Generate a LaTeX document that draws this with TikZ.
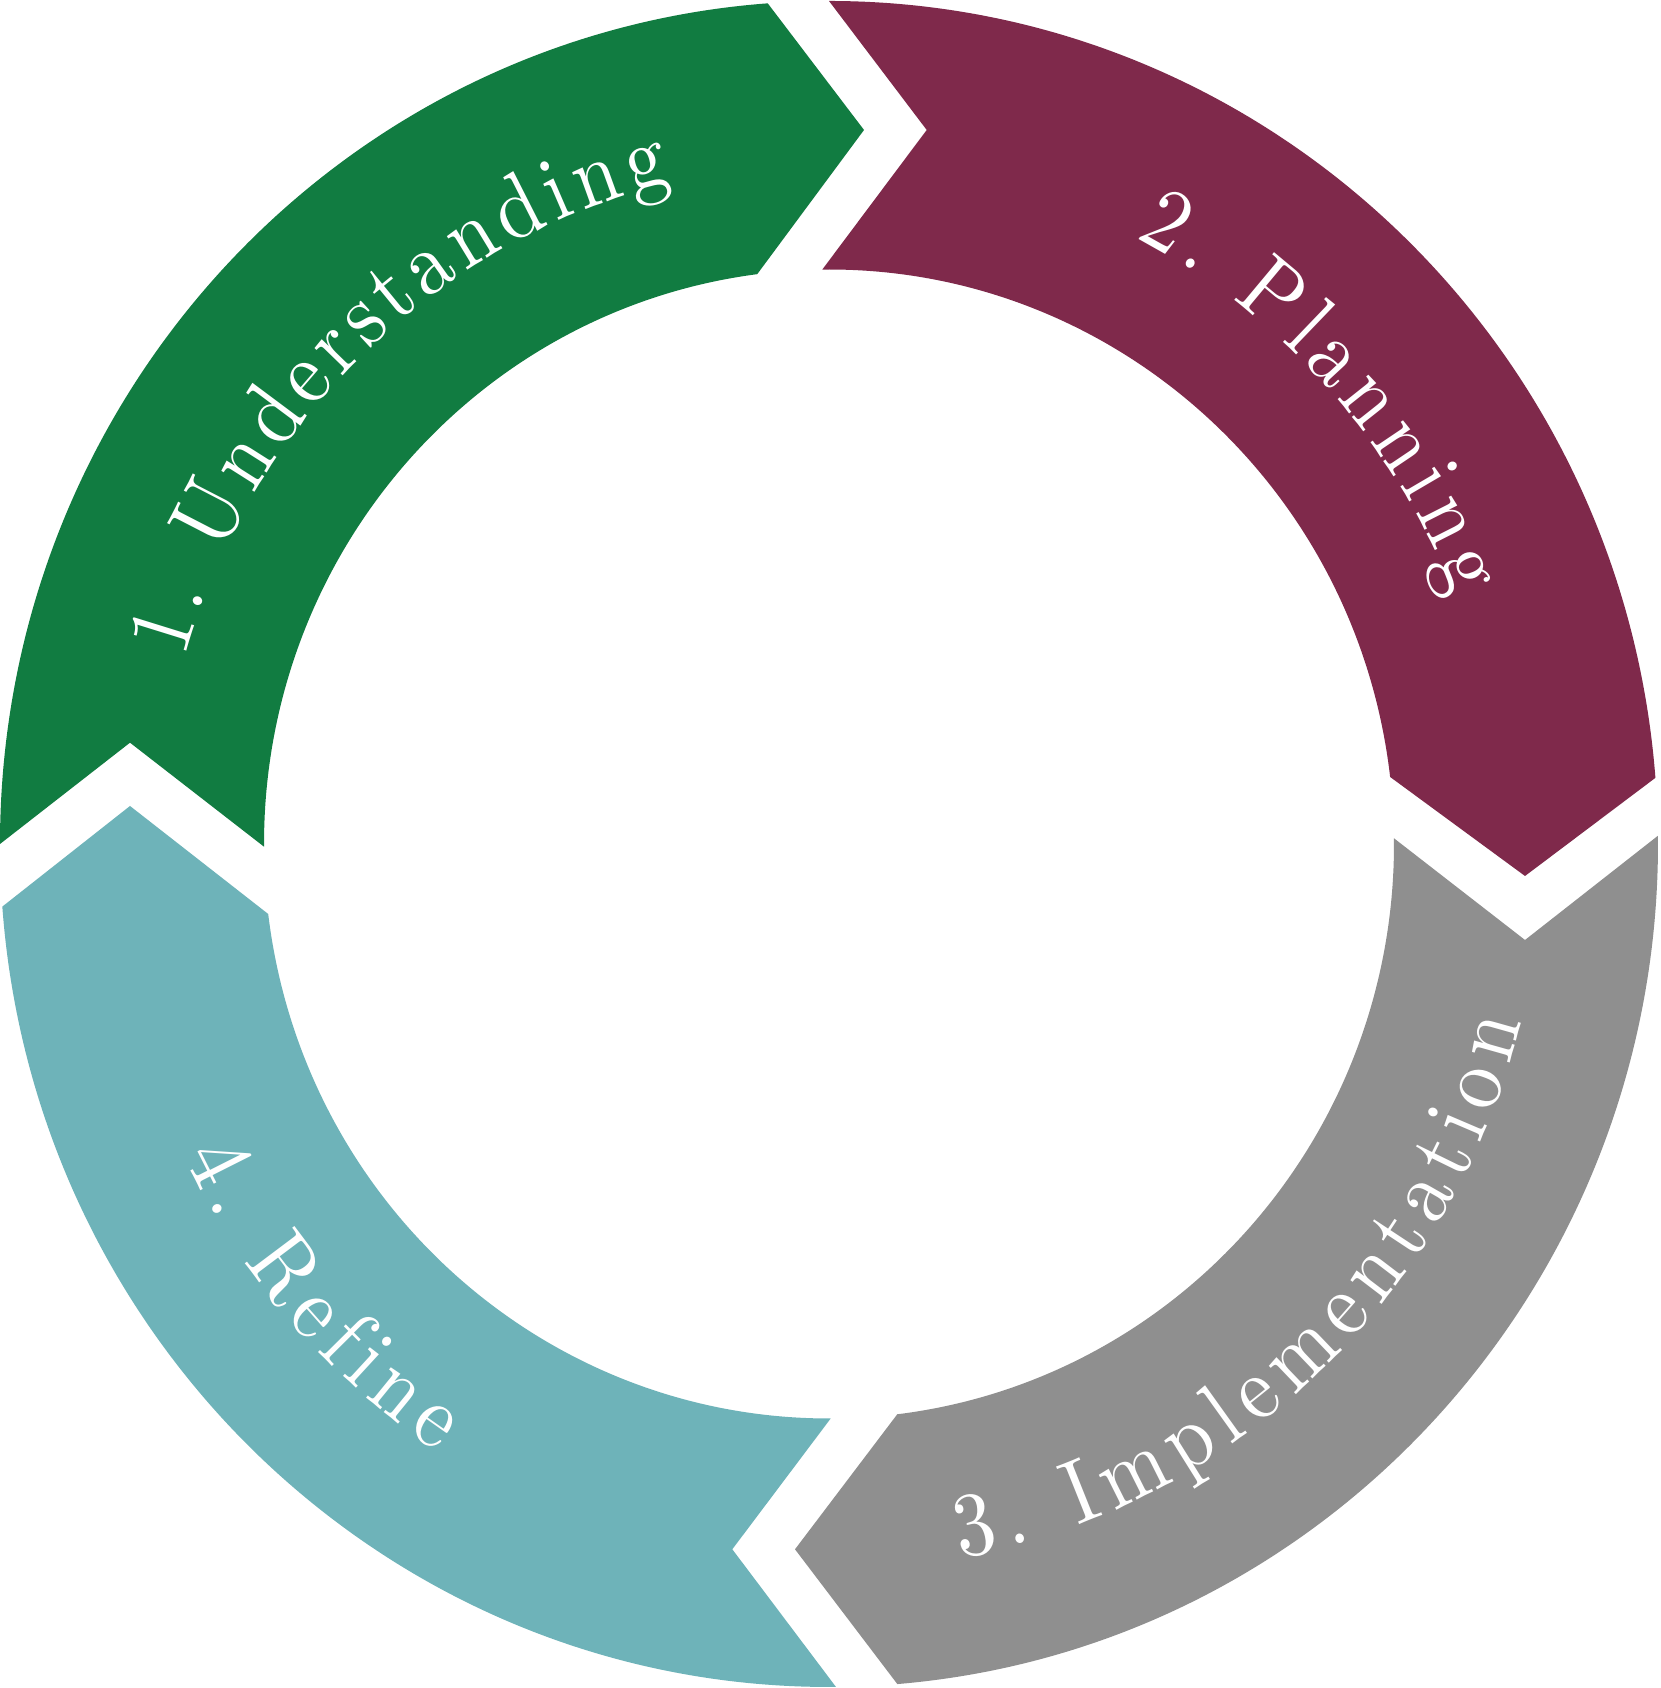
\documentclass[tikz,border=0pt]{standalone}
\usepackage{fontspec}
\usetikzlibrary{calc,decorations.text}
\definecolor{cgreen}{RGB}{17,124,65}
\definecolor{cmaroon}{RGB}{127,41,75}
\definecolor{cgray}{RGB}{143,143,143}
\definecolor{cteal}{RGB}{110,179,185}
\newfontfamily\labfont{lmroman10-regular.otf}[FakeStretch=0.9]
\newcommand\lab{\labfont\fontsize{91}{100}\selectfont}
\begin{document}
\begin{tikzpicture}[x=1pt,y=1pt,
  lbl/.style={decorate,decoration={text along path,text align={fit to path},text color=white,text={|\lab|#1}}}]
\fill[white] (0,0) rectangle (1660,1688);
\useasboundingbox (0,0) rectangle (1660,1688);
\coordinate (C) at (829,844);
% tips and notches
\coordinate (gtip) at (864,1558);
\coordinate (gnotch) at (130,945.3);
\coordinate (mtip) at (1525,812);
\coordinate (mnotch) at (926.7,1558);
\coordinate (ytip) at (795,138.7);
\coordinate (ynotch) at (1525,748);
\coordinate (ttip) at (130,882);
\coordinate (tnotch) at (732.3,138.7);
% 1. Understanding (green)
\fill[cgreen] ($(C)+(180:829 and 843)$) arc[start angle=180,end angle=94.24,x radius=829,y radius=843]
  -- (gtip) -- ($(C)+(97.3:565 and 574.5)$) arc[start angle=97.3,end angle=180.27,x radius=565,y radius=574.5]
  -- (gnotch) -- cycle;
% 2. Planning (maroon)
\fill[cmaroon] ($(C)+(90:829 and 843)$) arc[start angle=90,end angle=4.5,x radius=829,y radius=843]
  -- (mtip) -- ($(C)+(6.7:565 and 574.5)$) arc[start angle=6.7,end angle=90.68,x radius=565,y radius=574.5]
  -- (mnotch) -- cycle;
% 3. Implementation (gray)
\fill[cgray] ($(C)+(0.56:829 and 843)$) arc[start angle=0.56,end angle=-85.27,x radius=829,y radius=843]
  -- (ytip) -- ($(C)+(-83.06:565 and 574.5)$) arc[start angle=-83.06,end angle=0.57,x radius=565,y radius=574.5]
  -- (ynotch) -- cycle;
% 4. Refine (teal)
\fill[cteal] ($(C)+(270.48:829 and 843)$) arc[start angle=270.48,end angle=184.26,x radius=829,y radius=843]
  -- (ttip) -- ($(C)+(187:565 and 574.5)$) arc[start angle=187,end angle=270.17,x radius=565,y radius=574.5]
  -- (tnotch) -- cycle;
% labels
\path[lbl={1. Understanding}] ($(C)+(164.2:670 and 681)$) arc[start angle=164.2,end angle=103.6,x radius=670,y radius=681];
\path[lbl={2. Planning}] ($(C)+(62.8:670.7 and 682)$) arc[start angle=62.8,end angle=21.2,x radius=670.7,y radius=682];
\path[lbl={3. Implementation}] ($(C)+(280.6:714.6 and 726.7)$) arc[start angle=280.6,end angle=345.8,x radius=714.6,y radius=726.7];
\path[lbl={4. Refine}] ($(C)+(205.5:714.6 and 726.7)$) arc[start angle=205.5,end angle=236.8,x radius=714.6,y radius=726.7];
\end{tikzpicture}
\end{document}
